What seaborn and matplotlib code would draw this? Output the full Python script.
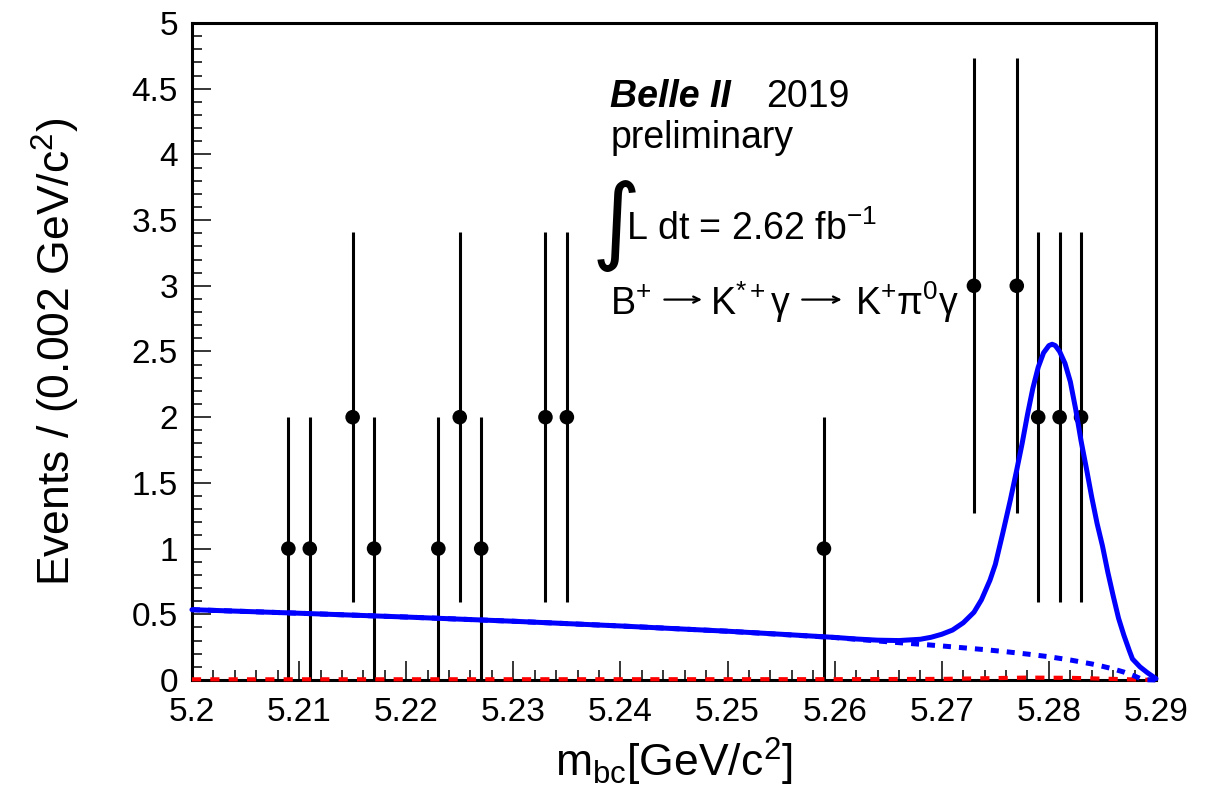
import matplotlib
matplotlib.use("Agg")
import matplotlib.pyplot as plt
import seaborn as sns
from matplotlib.ticker import FixedLocator, MultipleLocator

# data points (bin centres, 0.002 GeV/c2 bins)
mbc = [5.209, 5.211, 5.215, 5.217, 5.223, 5.225, 5.227, 5.233, 5.235,
       5.259, 5.273, 5.277, 5.279, 5.281, 5.283]
events = [1, 1, 2, 1, 1, 2, 1, 2, 2, 1, 3, 3, 2, 2, 2]
events_err = [1.0, 1.0, 1.41, 1.0, 1.0, 1.41, 1.0, 1.41, 1.41, 1.0,
              1.73, 1.73, 1.41, 1.41, 1.41]

# total fit curve
total_x = [5.200, 5.210, 5.220, 5.230, 5.240, 5.250, 5.255, 5.260, 5.262,
           5.264, 5.266, 5.268, 5.269, 5.270, 5.271, 5.272, 5.273, 5.2737,
           5.2745, 5.2750, 5.2757, 5.2764, 5.2770, 5.2775, 5.2780, 5.2785,
           5.2790, 5.2795, 5.2800, 5.2803, 5.2806, 5.2810, 5.2815, 5.2820,
           5.2825, 5.2830, 5.2835, 5.2840, 5.2845, 5.2850, 5.2855, 5.2860,
           5.2865, 5.2870, 5.2875, 5.2878, 5.2885, 5.2892, 5.2900]
total_y = [0.535, 0.508, 0.479, 0.447, 0.411, 0.371, 0.348, 0.324, 0.312,
           0.303, 0.300, 0.310, 0.325, 0.348, 0.380, 0.435, 0.515, 0.610,
           0.760, 0.880, 1.120, 1.370, 1.600, 1.800, 2.020, 2.220,
           2.380, 2.490, 2.545, 2.555, 2.545, 2.500, 2.410, 2.270,
           2.060, 1.820, 1.610, 1.390, 1.190, 1.020, 0.820, 0.640,
           0.470, 0.340, 0.225, 0.160, 0.100, 0.055, 0.010]

# combinatorial background (dashed blue)
bkg_x = [5.200, 5.210, 5.220, 5.230, 5.240, 5.250, 5.260, 5.262, 5.264,
         5.266, 5.268, 5.270, 5.272, 5.274, 5.276, 5.278, 5.280, 5.282,
         5.284, 5.285, 5.286, 5.287, 5.288, 5.2885, 5.289, 5.290]
bkg_y = [0.535, 0.508, 0.479, 0.447, 0.411, 0.371, 0.323, 0.310, 0.297,
         0.284, 0.272, 0.259, 0.245, 0.231, 0.215, 0.197, 0.177, 0.152,
         0.122, 0.104, 0.084, 0.060, 0.030, 0.012, 0.002, 0.0]

# peaking background (dashed red)
peak_x = [5.200, 5.260, 5.270, 5.278, 5.282, 5.286, 5.290]
peak_y = [0.005, 0.006, 0.008, 0.018, 0.016, 0.008, 0.0]

x_ticks = [5.20, 5.21, 5.22, 5.23, 5.24, 5.25, 5.26, 5.27, 5.28, 5.29]
x_tick_labels = ["5.2", "5.21", "5.22", "5.23", "5.24", "5.25", "5.26",
                 "5.27", "5.28", "5.29"]
y_ticks = [0, 0.5, 1, 1.5, 2, 2.5, 3, 3.5, 4, 4.5, 5]
y_tick_labels = ["0", "0.5", "1", "1.5", "2", "2.5", "3", "3.5", "4", "4.5", "5"]

sns.set_style("ticks")
plt.rcParams['font.family'] = ['Liberation Sans', 'DejaVu Sans']
plt.rcParams['mathtext.fontset'] = 'custom'
plt.rcParams['mathtext.rm'] = 'Liberation Sans'
plt.rcParams['mathtext.it'] = 'Liberation Sans:italic'
plt.rcParams['mathtext.bf'] = 'Liberation Sans:bold'
plt.rcParams['text.color'] = 'black'
plt.rcParams['axes.labelcolor'] = 'black'
plt.rcParams['xtick.color'] = 'black'
plt.rcParams['ytick.color'] = 'black'

fig = plt.figure(figsize=(12.25, 8.07), dpi=100)
ax = fig.add_axes([0.1567, 0.1574, 0.9437 - 0.1567, 0.9715 - 0.1574])

# data
ax.errorbar(mbc, events, yerr=events_err, fmt="none", ecolor="black",
            elinewidth=2.2, capsize=0, zorder=2)
sns.scatterplot(x=mbc, y=events, ax=ax, color="black", s=110,
                edgecolor="none", zorder=3)

# fit components
l_peak = sns.lineplot(x=peak_x, y=peak_y, ax=ax, color="red", lw=3,
                      sort=False, estimator=None, zorder=4).lines[-1]
l_peak.set_dashes([2.2, 2.2])
l_peak.set_clip_on(False)
l_bkg = sns.lineplot(x=bkg_x, y=bkg_y, ax=ax, color="blue", lw=3.6,
                     sort=False, estimator=None, zorder=5).lines[-1]
l_bkg.set_dashes([1.6, 1.6])
l_bkg.set_clip_on(False)
l_tot = sns.lineplot(x=total_x, y=total_y, ax=ax, color="blue", lw=3.6,
                     sort=False, estimator=None, zorder=6).lines[-1]
l_tot.set_clip_on(False)

ax.set_xlim(5.2, 5.29)
ax.set_ylim(0, 5)
ax.xaxis.set_major_locator(FixedLocator(x_ticks))
ax.set_xticklabels(x_tick_labels)
ax.xaxis.set_minor_locator(MultipleLocator(0.002))
ax.yaxis.set_major_locator(FixedLocator(y_ticks))
ax.set_yticklabels(y_tick_labels)
ax.yaxis.set_minor_locator(MultipleLocator(0.1))

ax.tick_params(which="both", direction="in", top=False, right=False,
               width=1.1, labelsize=24, color="black", labelcolor="black")
ax.tick_params(which="major", length=14)
ax.tick_params(which="minor", length=7)
ax.tick_params(axis="x", which="major", pad=12)
ax.tick_params(axis="y", which="major", pad=10)
for sp in ax.spines.values():
    sp.set_visible(True)
    sp.set_linewidth(2.2)
    sp.set_color("black")

ax.set_xlabel(r"m$_{\rm bc}$[GeV/c$^{2}$]", fontsize=32, labelpad=6)
ax.set_ylabel(r"Events / (0.002 GeV/c$^{2}$)", fontsize=32, labelpad=36)

# annotations
ax.text(0.434, 0.872, "Belle II", transform=ax.transAxes, fontsize=27,
        fontweight="bold", fontstyle="italic", va="baseline")
ax.text(0.596, 0.872, "2019", transform=ax.transAxes, fontsize=27,
        va="baseline")
ax.text(0.434, 0.810, "preliminary", transform=ax.transAxes, fontsize=27,
        va="baseline")
ax.text(0.414, 0.652, r"$\int$", transform=ax.transAxes, fontsize=48,
        va="baseline", math_fontfamily="dejavusans")
ax.text(0.450, 0.670, r"L dt = 2.62 fb$^{-1}$", transform=ax.transAxes,
        fontsize=27, va="baseline")

# decay chain, thin arrows drawn separately
ax.text(0.434, 0.556, r"B$^{+}$", transform=ax.transAxes, fontsize=27,
        va="baseline")
ax.text(0.537, 0.556, r"K$^{*+}$γ", transform=ax.transAxes, fontsize=27,
        va="baseline")
ax.text(0.688, 0.556, r"K$^{+}$π$^{0}$γ", transform=ax.transAxes,
        fontsize=27, va="baseline")
for x0, x1 in [(0.490, 0.529), (0.633, 0.674)]:
    ax.annotate("", xy=(x1, 0.579), xytext=(x0, 0.579),
                xycoords="axes fraction",
                arrowprops=dict(arrowstyle="->,head_length=0.45,head_width=0.22",
                                lw=1.6, color="black",
                                shrinkA=0, shrinkB=0))

fig.savefig("out.png", dpi=100)
